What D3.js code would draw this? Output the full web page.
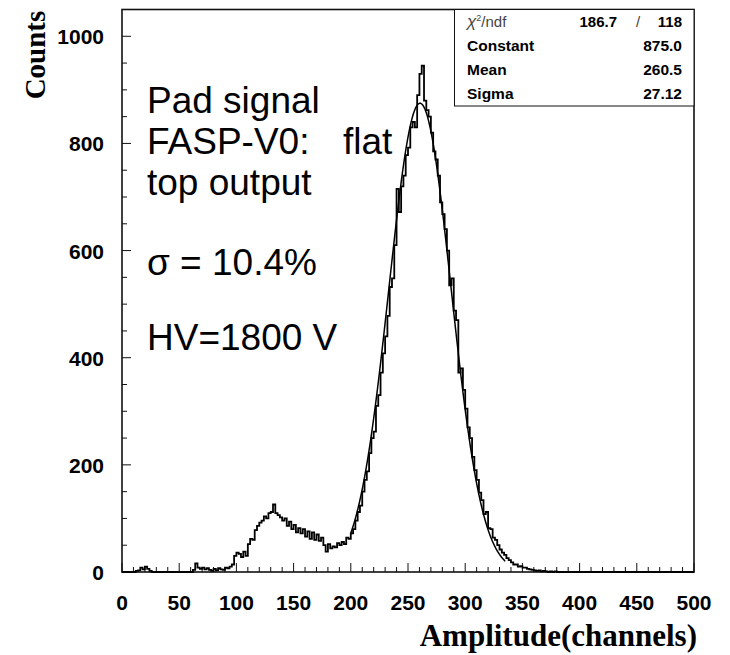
<!DOCTYPE html>
<html>
<head>
<meta charset="utf-8">
<script src="https://cdn.jsdelivr.net/npm/d3@7"></script>
<style>
  body { margin: 0; background: #fff; }
  svg { display: block; }
</style>
</head>
<body>
<svg id="chart" width="730" height="655"></svg>
<script>
// histogram: 2 channels per bin, 0..500
var BIN_WIDTH = 2;
var N_BINS = 250;

// small bump near the pedestal
var bumpStart = 12;
var bumpCounts = [2, 3, 8, 5, 10, 6, 2];

// main spectrum, starting at channel 60
var mainStart = 60;
var mainCounts = [
  0, 4, 16, 8, 6, 8, 5, 7, 4, 2, 6, 3, 7, 5, 4, 8, 7, 10, 14, 30,
  36, 34, 28, 38, 30, 52, 62, 60, 78, 86,
  92, 96, 104, 100, 110, 112, 126, 110, 106, 102,
  96, 100, 86, 94, 80, 88, 74, 82, 72, 80,
  66, 76, 62, 74, 60, 70, 58, 64, 50, 38,
  52, 44, 48, 46, 54, 50, 56, 52, 64, 62,
  72, 80, 96, 112, 124, 150, 172, 188, 222, 250,
  262, 310, 330, 372, 408, 440, 478, 532, 548, 610,
  715, 672, 720, 740, 778, 792, 830, 840, 830, 890,
  930, 945, 880, 862, 850, 820, 785, 770, 740, 690,
  668, 640, 600, 535, 548, 488, 470, 372, 380, 340,
  305, 270, 250, 215, 190, 172, 148, 134, 108, 112,
  82, 80, 64, 60, 50, 42, 36, 32, 26, 22,
  18, 14, 14, 10, 11, 8, 8, 6, 5, 4,
  3, 2, 3, 1, 2, 1, 0, 1, 0, 1
];

// gaussian fit from the stats box
var fitConstant = 875.0, fitMean = 260.5, fitSigma = 27.12;
var fitRange = [200, 335];

var xTicks = [0, 50, 100, 150, 200, 250, 300, 350, 400, 450, 500];
var yTicks = [0, 200, 400, 600, 800, 1000];

var statLabels = ["Constant", "Mean", "Sigma"];
var statValues = ["875.0", "260.5", "27.12"];
var chi2 = "186.7", ndf = "118";

var noteLines = [
  { text: "Pad signal", y: 113 },
  { text: "FASP-V0:", tail: "flat", y: 154 },
  { text: "top output", y: 195 },
  { text: "\u03c3 = 10.4%", y: 275 },
  { text: "HV=1800 V", y: 350 }
];

var frame = { left: 122, right: 694, top: 9.5, bottom: 572 };
var sans = "'Liberation Sans', Arial, Helvetica, sans-serif";
var serif = "'Liberation Serif', 'Times New Roman', serif";

var svg = d3.select("#chart");

var x = d3.scaleLinear().domain([0, 500]).range([frame.left, frame.right]);
var y = d3.scaleLinear().domain([0, 1050]).range([frame.bottom, frame.top]);

// build full bin table
var counts = d3.range(N_BINS).map(function () { return 0; });
bumpCounts.forEach(function (c, i) { counts[bumpStart / BIN_WIDTH + i] = c; });
mainCounts.forEach(function (c, i) { counts[mainStart / BIN_WIDTH + i] = c; });
var bins = counts.map(function (c, i) { return { lo: i * BIN_WIDTH, n: c }; });
bins.push({ lo: N_BINS * BIN_WIDTH, n: counts[N_BINS - 1] });

// frame
svg.append("rect")
  .attr("x", frame.left).attr("y", frame.top)
  .attr("width", frame.right - frame.left)
  .attr("height", frame.bottom - frame.top)
  .attr("fill", "none").attr("stroke", "#111").attr("stroke-width", 1.6);

// ticks (inside the frame, ROOT style)
var yMinor = d3.range(0, 1051, 50);
svg.append("g").selectAll("line")
  .data(yMinor)
  .enter().append("line")
    .attr("x1", frame.left)
    .attr("x2", function (d) { return frame.left + (d % 200 === 0 ? 9 : 5); })
    .attr("y1", function (d) { return y(d); })
    .attr("y2", function (d) { return y(d); })
    .attr("stroke", "#111").attr("stroke-width", 1);

var xMinor = d3.range(0, 501, 10);
svg.append("g").selectAll("line")
  .data(xMinor)
  .enter().append("line")
    .attr("x1", function (d) { return x(d); })
    .attr("x2", function (d) { return x(d); })
    .attr("y1", frame.bottom)
    .attr("y2", function (d) { return frame.bottom - (d % 50 === 0 ? 9 : 5); })
    .attr("stroke", "#111").attr("stroke-width", 1);

// tick labels
svg.append("g").selectAll("text")
  .data(yTicks)
  .enter().append("text")
    .attr("x", 104)
    .attr("y", function (d) { return y(d) + 8; })
    .attr("text-anchor", "end")
    .attr("font-family", sans).attr("font-weight", "bold").attr("font-size", 21)
    .text(function (d) { return d; });

svg.append("g").selectAll("text")
  .data(xTicks)
  .enter().append("text")
    .attr("x", function (d) { return x(d); })
    .attr("y", 610)
    .attr("text-anchor", "middle")
    .attr("font-family", sans).attr("font-weight", "bold").attr("font-size", 21)
    .text(function (d) { return d; });

// axis titles
svg.append("text")
  .attr("transform", "translate(45,55) rotate(-90)")
  .attr("text-anchor", "middle")
  .attr("font-family", serif).attr("font-weight", "bold").attr("font-size", 29)
  .text("Counts");

svg.append("text")
  .attr("x", 697).attr("y", 646)
  .attr("text-anchor", "end")
  .attr("font-family", serif).attr("font-weight", "bold").attr("font-size", 31)
  .text("Amplitude(channels)");

// histogram outline
var step = d3.line()
  .x(function (d) { return x(d.lo); })
  .y(function (d) { return y(d.n); })
  .curve(d3.curveStepAfter);

svg.append("path")
  .datum(bins)
  .attr("d", step)
  .attr("fill", "none").attr("stroke", "#000").attr("stroke-width", 1.8);

// fit curve
var fitPts = d3.range(fitRange[0], fitRange[1] + 0.5, 0.5);
var fitLine = d3.line()
  .x(function (d) { return x(d); })
  .y(function (d) {
    return y(fitConstant * Math.exp(-0.5 * Math.pow((d - fitMean) / fitSigma, 2)));
  });

svg.append("path")
  .datum(fitPts)
  .attr("d", fitLine)
  .attr("fill", "none").attr("stroke", "#000").attr("stroke-width", 1.5);

// annotation
var notes = svg.append("g").selectAll("text")
  .data(noteLines)
  .enter().append("text")
    .attr("x", 147)
    .attr("y", function (d) { return d.y; })
    .attr("font-family", sans).attr("font-size", 37)
    .text(function (d) { return d.text; });

notes.filter(function (d) { return d.tail; })
  .append("tspan")
    .attr("x", 343)
    .text(function (d) { return d.tail; });

// stats box
var box = svg.append("g");
box.append("rect")
  .attr("x", 454.5).attr("y", frame.top)
  .attr("width", frame.right - 454.5).attr("height", 106 - frame.top)
  .attr("fill", "#fff").attr("stroke", "#111").attr("stroke-width", 1);

var chiRow = box.append("text")
  .attr("x", 467).attr("y", 27)
  .attr("font-family", sans).attr("font-size", 15).attr("fill", "#444");
chiRow.append("tspan").attr("font-style", "italic").attr("font-size", 17).text("\u03c7");
chiRow.append("tspan").attr("dy", -6).attr("font-size", 9).text("2");
chiRow.append("tspan").attr("dy", 6).text("/ndf");

box.append("text")
  .attr("x", 617).attr("y", 27).attr("text-anchor", "end")
  .attr("font-family", sans).attr("font-weight", "bold").attr("font-size", 15)
  .text(chi2);
box.append("text")
  .attr("x", 638).attr("y", 27).attr("text-anchor", "middle")
  .attr("font-family", sans).attr("font-size", 15).attr("fill", "#444")
  .text("/");
box.append("text")
  .attr("x", 682).attr("y", 27).attr("text-anchor", "end")
  .attr("font-family", sans).attr("font-weight", "bold").attr("font-size", 15)
  .text(ndf);

statLabels.forEach(function (lab, i) {
  var yy = 51 + i * 24;
  box.append("text")
    .attr("x", 467).attr("y", yy)
    .attr("font-family", sans).attr("font-weight", "bold").attr("font-size", 15.5)
    .text(lab);
  box.append("text")
    .attr("x", 682).attr("y", yy).attr("text-anchor", "end")
    .attr("font-family", sans).attr("font-weight", "bold").attr("font-size", 15.5)
    .text(statValues[i]);
});
</script>
</body>
</html>
